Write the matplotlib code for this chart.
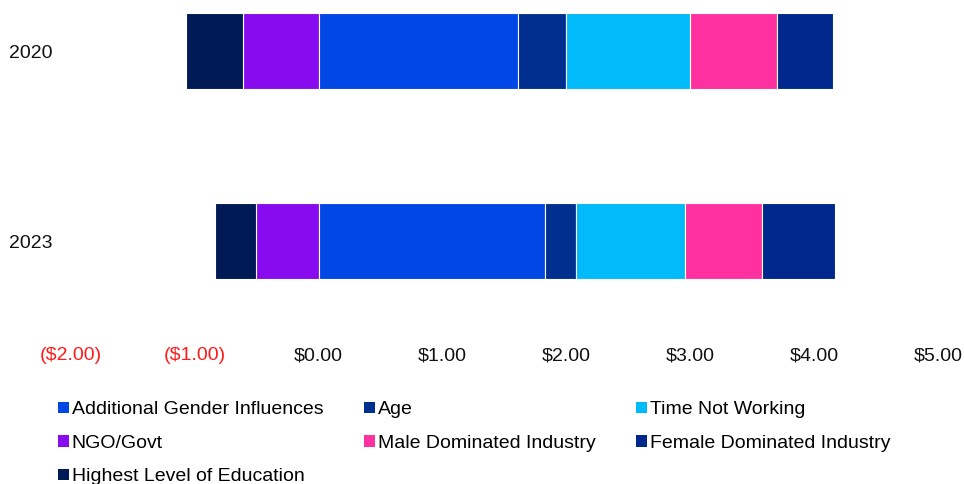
import matplotlib.pyplot as plt
from matplotlib.patches import Patch
from matplotlib.ticker import FuncFormatter
import numpy as np

plt.rcParams['font.family'] = ['Liberation Sans', 'DejaVu Sans']

years = ['2020', '2023']

# negative side (drawn from 0 outwards)
ngo_govt = [0.61, 0.51]
highest_edu = [0.46, 0.33]

# positive side (stacked left to right)
additional_gender = [1.61, 1.83]
age = [0.39, 0.25]
time_not_working = [1.00, 0.88]
male_dominated = [0.70, 0.62]
female_dominated = [0.45, 0.59]

colors = {
    'Additional Gender Influences': '#0047E6',
    'Age': '#00308F',
    'Time Not Working': '#00BAF9',
    'NGO/Govt': '#870BEE',
    'Male Dominated Industry': '#FF309F',
    'Female Dominated Industry': '#00288C',
    'Highest Level of Education': '#001A55',
}

fig = plt.figure(figsize=(9.64, 4.84), dpi=100)
ax = fig.add_axes([71 / 964, 0.297, (938 - 71) / 964, 0.703])

y = np.arange(len(years))
h = 0.4
ec = dict(edgecolor='white', linewidth=0.8)

ax.barh(y, [-v for v in ngo_govt], height=h, color=colors['NGO/Govt'], **ec)
ax.barh(y, [-v for v in highest_edu], left=[-v for v in ngo_govt], height=h,
        color=colors['Highest Level of Education'], **ec)

left = np.zeros(len(years))
for name, vals in [('Additional Gender Influences', additional_gender),
                   ('Age', age),
                   ('Time Not Working', time_not_working),
                   ('Male Dominated Industry', male_dominated),
                   ('Female Dominated Industry', female_dominated)]:
    ax.barh(y, vals, left=left, height=h, color=colors[name], **ec)
    left += np.array(vals)

ax.set_xlim(-2, 5)
ax.set_ylim(1.52, -0.27)
ax.set_yticks(y)
ax.set_yticklabels(years)
ax.set_xticks(np.arange(-2, 6, 1))


def money(v, pos):
    if v < 0:
        return '(${:.2f})'.format(-v)
    return '${:.2f}'.format(v)


ax.xaxis.set_major_formatter(FuncFormatter(money))
ax.tick_params(axis='both', length=0, labelsize=14, colors='#111111')
ax.tick_params(axis='y', pad=13)
ax.tick_params(axis='x', pad=5)
for lab in ax.get_xticklabels():
    if lab.get_text().startswith('('):
        lab.set_color('#FF1A1A')
for s in ax.spines.values():
    s.set_visible(False)

# legend filled column by column to get row-wise order
order = ['Additional Gender Influences', 'NGO/Govt', 'Highest Level of Education',
         'Age', 'Male Dominated Industry',
         'Time Not Working', 'Female Dominated Industry']
handles = [Patch(facecolor=colors[n], label=n) for n in order]
fig.legend(handles=handles, ncol=3, loc='upper left', bbox_to_anchor=(0.042, 0.207),
           frameon=False, fontsize=14, handlelength=0.55, handleheight=0.55,
           handletextpad=0.15, columnspacing=2.1, labelspacing=0.85)

fig.savefig('out.png', dpi=100)
